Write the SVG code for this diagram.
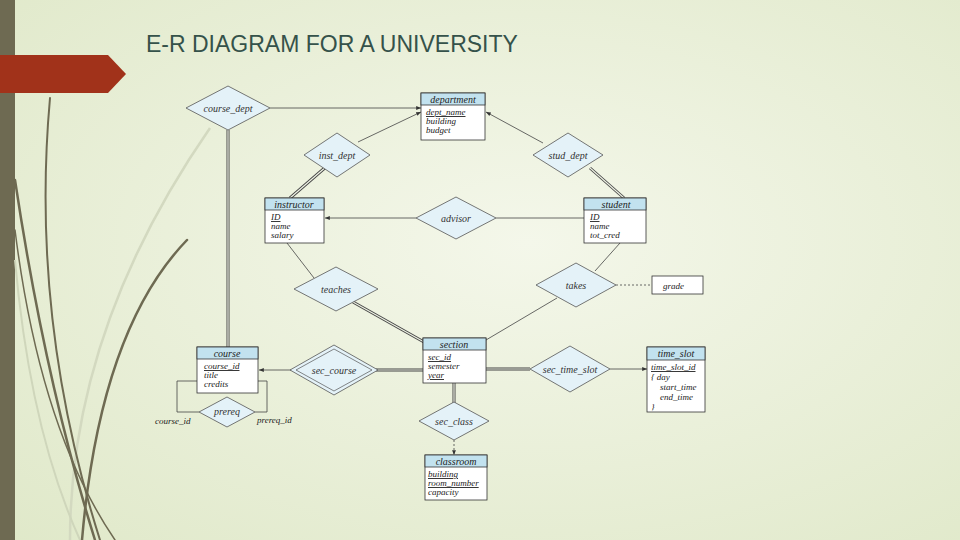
<svg xmlns="http://www.w3.org/2000/svg" width="960" height="540" viewBox="0 0 960 540">
<defs>
<radialGradient id="bg" cx="0.55" cy="0.45" r="0.8"><stop offset="0" stop-color="#f4f7ea"/><stop offset="1" stop-color="#dfe8c8"/></radialGradient>
<marker id="ar" viewBox="0 0 10 10" refX="10" refY="5" markerWidth="6" markerHeight="6" orient="auto"><path d="M0,1 L10,5 L0,9 z" fill="#333"/></marker>
</defs>
<style>
.e{fill:#fff;stroke:#333;stroke-width:0.8}
.h{fill:#c2e2ef;stroke:#333;stroke-width:0.8}
.d{fill:#e4f2f8;stroke:#555;stroke-width:0.8}
.t{font-family:"Liberation Serif",serif;font-style:italic;font-size:9px;fill:#222}
.ht{font-family:"Liberation Serif",serif;font-style:italic;font-size:10px;fill:#222;text-anchor:middle}
.dt{font-family:"Liberation Serif",serif;font-style:italic;font-size:10px;fill:#333;text-anchor:middle}
.l{stroke:#444;stroke-width:0.8;fill:none}
.dbl{stroke:#444;stroke-width:3;fill:none}
.dbi{stroke:#eef2e4;stroke-width:1.2;fill:none}
.dec{stroke:#6e6a52;fill:none;stroke-linecap:round}
</style>
<rect width="960" height="540" fill="url(#bg)"/>
<g id="decor">
<rect x="0" y="0" width="15" height="540" fill="#6e6a52"/>
<path d="M0,55 H108 L126,74 L108,93 H0 z" fill="#a1321a"/>
<path d="M70,540 Q70,330 210,128" stroke="#d3d9c0" stroke-width="2.5" fill="none"/>
<path d="M15,260 Q30,430 80,540" stroke="#cfd6bb" stroke-width="2" fill="none"/>
<path d="M50,98 Q30,320 100,540" class="dec" stroke-width="2"/>
<path d="M15,180 Q45,380 95,540" class="dec" stroke-width="2.5"/>
<path d="M187,240 Q100,330 82,540" class="dec" stroke-width="2.5"/>
<path d="M15,230 Q40,430 115,540" class="dec" stroke-width="1.5"/>
</g>
<text x="146" y="52" font-family="Liberation Sans, Arial, sans-serif" font-size="23" fill="#35524a">E-R DIAGRAM FOR A UNIVERSITY</text>
<g id="connectors">
<line x1="270" y1="108" x2="421" y2="108" class="l" marker-end="url(#ar)"/>
<line x1="228" y1="130" x2="228" y2="347" class="dbl"/><line x1="228" y1="130" x2="228" y2="347" class="dbi"/>
<line x1="358" y1="142" x2="421" y2="112" class="l" marker-end="url(#ar)"/>
<line x1="327" y1="166" x2="290" y2="198" class="dbl"/><line x1="327" y1="166" x2="290" y2="198" class="dbi"/>
<line x1="543" y1="143" x2="486" y2="112" class="l" marker-end="url(#ar)"/>
<line x1="590" y1="168" x2="624" y2="198" class="dbl"/><line x1="590" y1="168" x2="624" y2="198" class="dbi"/>
<line x1="416" y1="218" x2="325" y2="218" class="l" marker-end="url(#ar)" stroke="#999"/>
<line x1="496" y1="218" x2="584" y2="218" class="l" stroke="#aaa"/>
<line x1="287" y1="243" x2="314" y2="278" class="l"/>
<line x1="353" y1="302" x2="424" y2="342" class="dbl"/><line x1="353" y1="302" x2="424" y2="342" class="dbi"/>
<line x1="620" y1="243" x2="595" y2="271" class="l"/>
<line x1="557" y1="298" x2="486" y2="340" class="l"/>
<line x1="616" y1="285" x2="652" y2="285" class="l" stroke="#999" stroke-dasharray="2,2"/>
<line x1="423" y1="370" x2="376" y2="370" class="dbl"/><line x1="423" y1="370" x2="376" y2="370" class="dbi"/>
<line x1="292" y1="370" x2="259" y2="370" class="l" marker-end="url(#ar)"/>
<line x1="486" y1="369" x2="530" y2="369" class="dbl"/><line x1="486" y1="369" x2="530" y2="369" class="dbi"/>
<line x1="610" y1="369" x2="647" y2="369" class="l" stroke="#999" marker-end="url(#ar)"/>
<line x1="454" y1="383" x2="454" y2="403" class="dbl"/><line x1="454" y1="383" x2="454" y2="403" class="dbi"/>
<line x1="454" y1="440" x2="454" y2="455" class="l" stroke="#999" stroke-dasharray="2,2" marker-end="url(#ar)"/>
<polyline points="197,381 177,381 177,412 199,412" class="l"/>
<polyline points="258,381 267,381 267,412 255,412" class="l"/>
</g>
<g id="department"><rect x="421" y="93" width="64" height="47" class="e"/><rect x="421" y="93" width="64" height="12" class="h"/><text x="453" y="103" class="ht">department</text><text x="426" y="115" class="t" text-decoration="underline">dept_name</text><text x="426" y="124" class="t">building</text><text x="426" y="133" class="t">budget</text></g>
<g id="instructor"><rect x="265" y="198" width="59" height="45" class="e"/><rect x="265" y="198" width="59" height="12" class="h"/><text x="294" y="208" class="ht">instructor</text><text x="271" y="220" class="t" text-decoration="underline">ID</text><text x="271" y="229" class="t">name</text><text x="271" y="238" class="t">salary</text></g>
<g id="student"><rect x="584" y="198" width="62" height="45" class="e"/><rect x="584" y="198" width="62" height="12" class="h"/><text x="616" y="208" class="ht">student</text><text x="590" y="220" class="t" text-decoration="underline">ID</text><text x="590" y="229" class="t">name</text><text x="590" y="238" class="t">tot_cred</text></g>
<g id="section"><rect x="423" y="338" width="63" height="45" class="e"/><rect x="423" y="338" width="63" height="12" class="h"/><text x="454" y="348" class="ht">section</text><text x="428" y="360" class="t" text-decoration="underline">sec_id</text><text x="428" y="369" class="t">semester</text><text x="428" y="378" class="t" text-decoration="underline">year</text></g>
<g id="course"><rect x="197" y="347" width="61" height="46" class="e"/><rect x="197" y="347" width="61" height="12" class="h"/><text x="227" y="357" class="ht">course</text><text x="204" y="369" class="t" text-decoration="underline">course_id</text><text x="204" y="378" class="t">title</text><text x="204" y="387" class="t">credits</text></g>
<g id="time_slot"><rect x="647" y="347" width="58" height="65" class="e"/><rect x="647" y="347" width="58" height="13" class="h"/><text x="676" y="357" class="ht">time_slot</text><text x="651" y="370" class="t" text-decoration="underline">time_slot_id</text><text x="651" y="380" class="t">{ day</text><text x="660" y="390" class="t">start_time</text><text x="660" y="400" class="t">end_time</text><text x="651" y="410" class="t">}</text></g>
<g id="classroom"><rect x="425" y="455" width="62" height="45" class="e"/><rect x="425" y="455" width="62" height="12" class="h"/><text x="456" y="465" class="ht">classroom</text><text x="428" y="477" class="t" text-decoration="underline">building</text><text x="428" y="486" class="t" text-decoration="underline">room_number</text><text x="428" y="495" class="t">capacity</text></g>
<g id="grade"><rect x="652" y="276" width="51" height="18" class="e"/><text x="663" y="289" class="t">grade</text></g>
<g id="course_dept"><polygon points="186,108 228,86 270,108 228,130" class="d"/><text x="228" y="112" class="dt">course_dept</text></g>
<g id="inst_dept"><polygon points="304,155 337,133 370,155 337,177" class="d"/><text x="337" y="159" class="dt">inst_dept</text></g>
<g id="stud_dept"><polygon points="533,155 568,133 603,155 568,177" class="d"/><text x="568" y="159" class="dt">stud_dept</text></g>
<g id="advisor"><polygon points="416,218 456,197 496,218 456,239" class="d"/><text x="456" y="222" class="dt">advisor</text></g>
<g id="teaches"><polygon points="294,289 336,267 378,289 336,311" class="d"/><text x="336" y="293" class="dt">teaches</text></g>
<g id="takes"><polygon points="536,285 576,263 616,285 576,307" class="d"/><text x="576" y="289" class="dt">takes</text></g>
<g id="sec_course"><polygon points="290,370 334,345 378,370 334,395" class="d"/><polygon points="296,370 334,349 372,370 334,391" fill="none" stroke="#555" stroke-width="0.7"/><text x="334" y="374" class="dt">sec_course</text></g>
<g id="sec_time_slot"><polygon points="530,369 570,346 610,369 570,392" class="d"/><text x="570" y="373" class="dt">sec_time_slot</text></g>
<g id="sec_class"><polygon points="419,421 454,402 489,421 454,440" class="d"/><text x="454" y="425" class="dt">sec_class</text></g>
<g id="prereq"><polygon points="199,412 227,397 255,412 227,427" class="d"/><text x="227" y="415" class="dt">prereq</text></g>
<text x="155" y="424" class="t" font-size="8">course_id</text>
<text x="257" y="423" class="t" font-size="8">prereq_id</text>
</svg>
